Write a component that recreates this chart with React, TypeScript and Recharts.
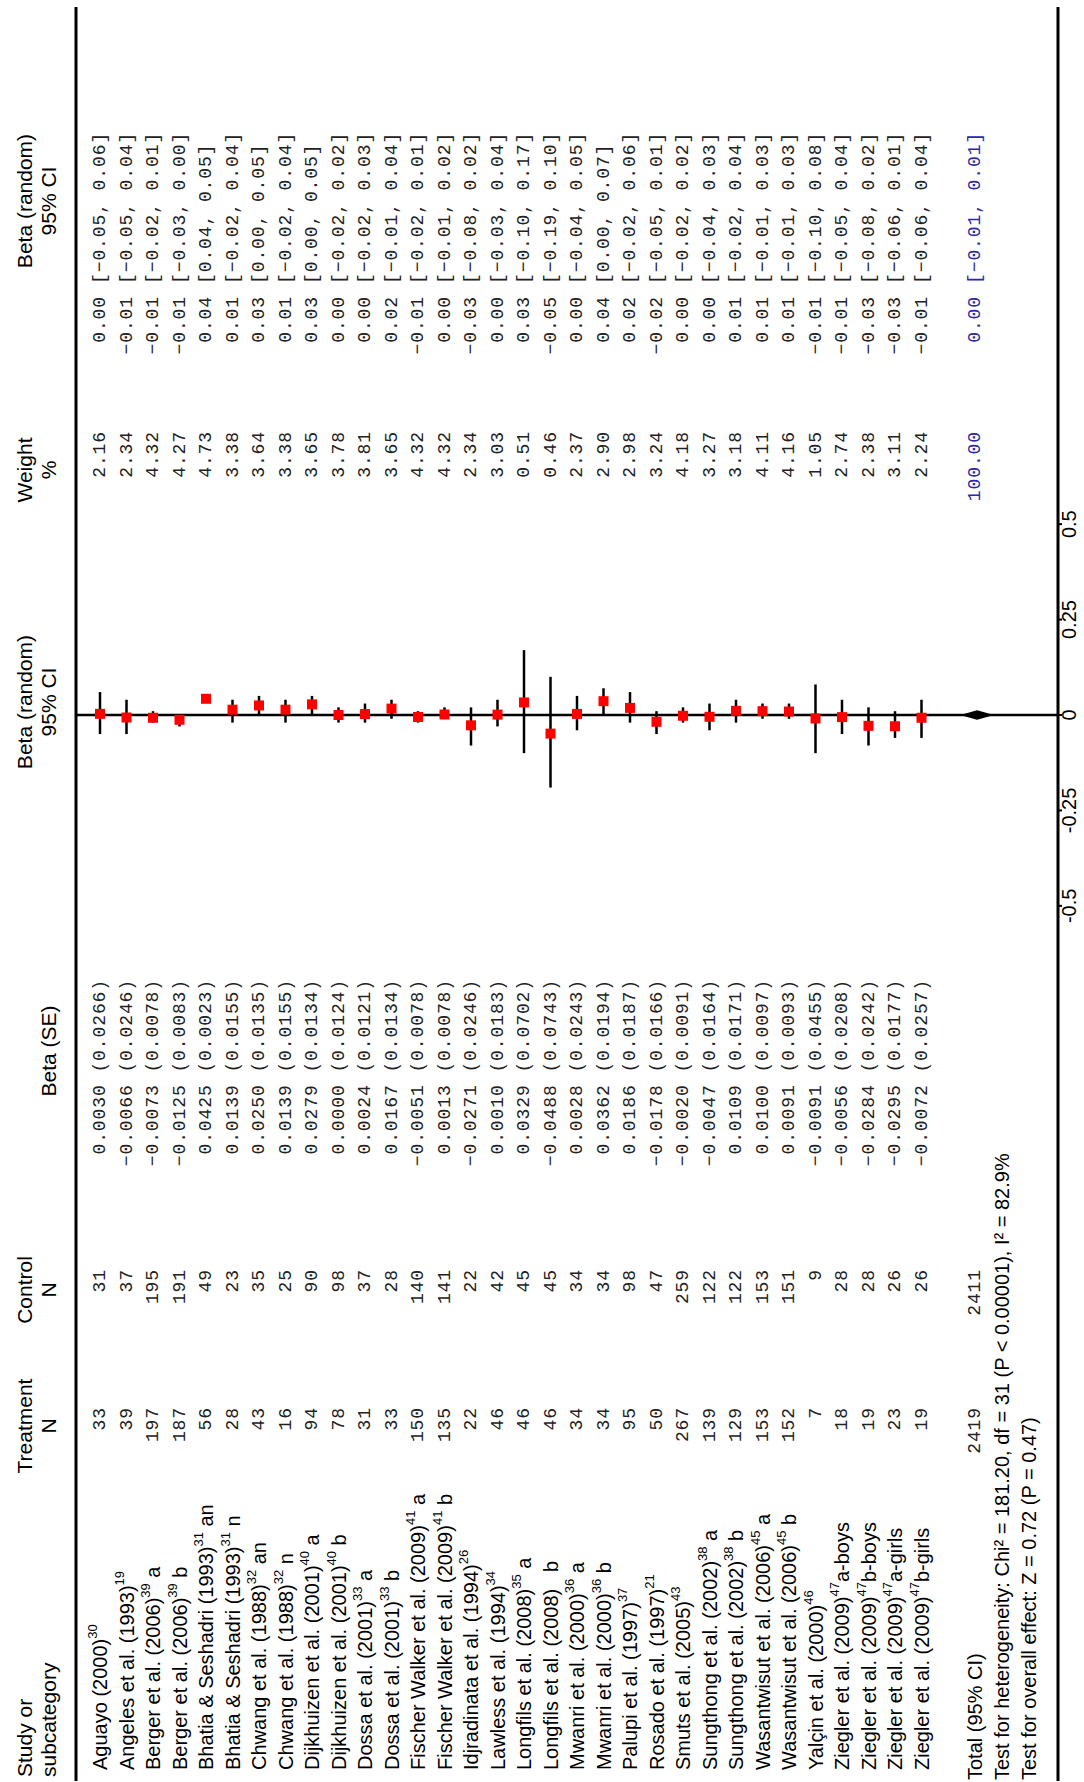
import React from "react";
import {
  ErrorBar,
  ReferenceArea,
  ReferenceLine,
  Scatter,
  ScatterChart,
  XAxis,
  YAxis,
} from "recharts";

// study rows, top to bottom
const studyNames = [
  "Aguayo (2000)",
  "Angeles et al. (1993)",
  "Berger et al. (2006)",
  "Berger et al. (2006)",
  "Bhatia & Seshadri (1993)",
  "Bhatia & Seshadri (1993)",
  "Chwang et al. (1988)",
  "Chwang et al. (1988)",
  "Dijkhuizen et al. (2001)",
  "Dijkhuizen et al. (2001)",
  "Dossa et al. (2001)",
  "Dossa et al. (2001)",
  "Fischer Walker et al. (2009)",
  "Fischer Walker et al. (2009)",
  "Idjradinata et al. (1994)",
  "Lawless et al. (1994)",
  "Longfils et al. (2008)",
  "Longfils et al. (2008)",
  "Mwanri et al. (2000)",
  "Mwanri et al. (2000)",
  "Palupi et al. (1997)",
  "Rosado et al. (1997)",
  "Smuts et al. (2005)",
  "Sungthong et al. (2002)",
  "Sungthong et al. (2002)",
  "Wasantwisut et al. (2006)",
  "Wasantwisut et al. (2006)",
  "Yalçin et al. (2000)",
  "Ziegler et al. (2009)",
  "Ziegler et al. (2009)",
  "Ziegler et al. (2009)",
  "Ziegler et al. (2009)",
];
const studyRefs = [
  "30", "19", "39", "39", "31", "31", "32", "32", "40", "40", "33", "33",
  "41", "41", "26", "34", "35", "", "36", "36", "37", "21", "43", "38",
  "38", "45", "45", "46", "47", "47", "47", "47",
];
const studySuffixes = [
  "", "", " a", " b", " an", " n", " an", " n", " a", " b", " a", " b",
  " a", " b", "", "", " a", "   b", " a", " b", "", "", "", " a",
  " b", " a", " b", "", "a-boys", "b-boys", "a-girls", "b-girls",
];
const treatmentN = [
  33, 39, 197, 187, 56, 28, 43, 16, 94, 78, 31, 33, 150, 135, 22, 46, 46, 46,
  34, 34, 95, 50, 267, 139, 129, 153, 152, 7, 18, 19, 23, 19,
];
const controlN = [
  31, 37, 195, 191, 49, 23, 35, 25, 90, 98, 37, 28, 140, 141, 22, 42, 45, 45,
  34, 34, 98, 47, 259, 122, 122, 153, 151, 9, 28, 28, 26, 26,
];
const betas = [
  0.003, -0.0066, -0.0073, -0.0125, 0.0425, 0.0139, 0.025, 0.0139, 0.0279, 0.0,
  0.0024, 0.0167, -0.0051, 0.0013, -0.0271, 0.001, 0.0329, -0.0488, 0.0028,
  0.0362, 0.0186, -0.0178, -0.002, -0.0047, 0.0109, 0.01, 0.0091, -0.0091,
  -0.0056, -0.0284, -0.0295, -0.0072,
];
const standardErrors = [
  0.0266, 0.0246, 0.0078, 0.0083, 0.0023, 0.0155, 0.0135, 0.0155, 0.0134,
  0.0124, 0.0121, 0.0134, 0.0078, 0.0078, 0.0246, 0.0183, 0.0702, 0.0743,
  0.0243, 0.0194, 0.0187, 0.0166, 0.0091, 0.0164, 0.0171, 0.0097, 0.0093,
  0.0455, 0.0208, 0.0242, 0.0177, 0.0257,
];
const weights = [
  2.16, 2.34, 4.32, 4.27, 4.73, 3.38, 3.64, 3.38, 3.65, 3.78, 3.81, 3.65, 4.32,
  4.32, 2.34, 3.03, 0.51, 0.46, 2.37, 2.9, 2.98, 3.24, 4.18, 3.27, 3.18, 4.11,
  4.16, 1.05, 2.74, 2.38, 3.11, 2.24,
];
const estimates = [
  0.0, -0.01, -0.01, -0.01, 0.04, 0.01, 0.03, 0.01, 0.03, 0.0, 0.0, 0.02, -0.01,
  0.0, -0.03, 0.0, 0.03, -0.05, 0.0, 0.04, 0.02, -0.02, 0.0, 0.0, 0.01, 0.01,
  0.01, -0.01, -0.01, -0.03, -0.03, -0.01,
];
const ciLower = [
  -0.05, -0.05, -0.02, -0.03, 0.04, -0.02, 0.0, -0.02, 0.0, -0.02, -0.02, -0.01,
  -0.02, -0.01, -0.08, -0.03, -0.1, -0.19, -0.04, 0.0, -0.02, -0.05, -0.02,
  -0.04, -0.02, -0.01, -0.01, -0.1, -0.05, -0.08, -0.06, -0.06,
];
const ciUpper = [
  0.06, 0.04, 0.01, 0.0, 0.05, 0.04, 0.05, 0.04, 0.05, 0.02, 0.03, 0.04, 0.01,
  0.02, 0.02, 0.04, 0.17, 0.1, 0.05, 0.07, 0.06, 0.01, 0.02, 0.03, 0.04, 0.03,
  0.03, 0.08, 0.04, 0.02, 0.01, 0.04,
];

// pooled result and footer
const totalTreatment = 2419;
const totalControl = 2411;
const totalWeight = 100;
const totalEstimate = 0.0;
const totalLower = -0.01;
const totalUpper = 0.01;
const heterogeneityText =
  "Test for heterogeneity: Chi² = 181.20, df = 31 (P < 0.00001), I² = 82.9%";
const overallText = "Test for overall effect: Z = 0.72 (P = 0.47)";
const axisTicks = [-0.5, -0.25, 0, 0.25, 0.5];

// layout (chart is drawn landscape, then turned a quarter to the left)
const W = 1782;
const H = 1084;
const PLOT_LEFT = 1;
const PLOT_TOP = 76;
const PLOT_BOTTOM = 1058;
const PLOT_RIGHT = 1775;
const ROW0 = 100;
const ROW_H = 26.5;
const ZERO_U = 1067;
const PX_PER_UNIT = 381.7;
const TOTAL_ROW = 33;
const HET_ROW = 34.05;
const OVERALL_ROW = 35.05;

const xDomain = [
  (PLOT_LEFT - ZERO_U) / PX_PER_UNIT,
  (PLOT_RIGHT - ZERO_U) / PX_PER_UNIT,
];
const yDomain = [(PLOT_TOP - ROW0) / ROW_H, (PLOT_BOTTOM - ROW0) / ROW_H];

const COL = {
  study: 12,
  footer: 2,
  treat: 375,
  control: 513,
  se: 803,
  weight: 1351,
  est: 1486,
  ci: 1498,
};

const SANS = "'Liberation Sans', Arial, sans-serif";
const MONO = "'Liberation Mono', 'DejaVu Sans Mono', monospace";
const NUM_COLOR = "#222";
const BLUE = "#2a2aa8";

const monoStyle = {
  fontFamily: MONO,
  fontSize: 18,
  letterSpacing: 0.9,
};

const fmt = (v: number, d: number) =>
  (v < 0 ? "\u2212" : "") + Math.abs(v).toFixed(d);
const ciText = (lo: number, hi: number) => `[${fmt(lo, 2)}, ${fmt(hi, 2)}]`;

const points = betas.map((b, i) => ({
  x: b,
  y: i,
  err: [b - ciLower[i], ciUpper[i] - b],
}));

const rowTicks = [
  ...studyNames.map((_, i) => i),
  TOTAL_ROW,
  HET_ROW,
  OVERALL_ROW,
];

function NumText({
  u,
  y,
  anchor,
  fill = NUM_COLOR,
  children,
}: {
  u: number;
  y: number;
  anchor: "start" | "end";
  fill?: string;
  children: React.ReactNode;
}) {
  return (
    <text
      x={u}
      y={y}
      textAnchor={anchor}
      dominantBaseline="central"
      fill={fill}
      style={{ ...monoStyle, whiteSpace: "pre" }}
    >
      {children}
    </text>
  );
}

function RowTick(props: any) {
  const { y, payload } = props;
  const row = payload.value as number;

  if (row < studyNames.length) {
    const i = row;
    return (
      <g>
        <text
          x={COL.study}
          y={y}
          dominantBaseline="central"
          fill="#000"
          style={{ fontFamily: SANS, fontSize: 20, whiteSpace: "pre" }}
        >
          {studyNames[i]}
          {studyRefs[i] ? (
            <tspan dy={-8} fontSize={13}>
              {studyRefs[i]}
            </tspan>
          ) : null}
          {studySuffixes[i] ? (
            <tspan dy={studyRefs[i] ? 8 : 0}>{studySuffixes[i]}</tspan>
          ) : null}
        </text>
        <NumText u={COL.treat} y={y} anchor="end">
          {treatmentN[i]}
        </NumText>
        <NumText u={COL.control} y={y} anchor="end">
          {controlN[i]}
        </NumText>
        <NumText u={COL.se} y={y} anchor="end">
          {`${fmt(betas[i], 4)} (${standardErrors[i].toFixed(4)})`}
        </NumText>
        <NumText u={COL.weight} y={y} anchor="end">
          {weights[i].toFixed(2)}
        </NumText>
        <NumText u={COL.est} y={y} anchor="end">
          {fmt(estimates[i], 2)}
        </NumText>
        <NumText u={COL.ci} y={y} anchor="start">
          {ciText(ciLower[i], ciUpper[i])}
        </NumText>
      </g>
    );
  }

  if (row === TOTAL_ROW) {
    return (
      <g>
        <text
          x={COL.footer}
          y={y}
          dominantBaseline="central"
          fill="#000"
          style={{ fontFamily: SANS, fontSize: 20 }}
        >
          Total (95% CI)
        </text>
        <NumText u={COL.treat} y={y} anchor="end">
          {totalTreatment}
        </NumText>
        <NumText u={COL.control} y={y} anchor="end">
          {totalControl}
        </NumText>
        <NumText u={COL.weight} y={y} anchor="end" fill={BLUE}>
          {totalWeight.toFixed(2)}
        </NumText>
        <NumText u={COL.est} y={y} anchor="end" fill={BLUE}>
          {fmt(totalEstimate, 2)}
        </NumText>
        <NumText u={COL.ci} y={y} anchor="start" fill={BLUE}>
          {ciText(totalLower, totalUpper)}
        </NumText>
      </g>
    );
  }

  const txt = row === HET_ROW ? heterogeneityText : overallText;
  return (
    <text
      x={COL.footer}
      y={y}
      dominantBaseline="central"
      fill="#000"
      style={{ fontFamily: SANS, fontSize: 20 }}
    >
      {txt}
    </text>
  );
}

function RedSquare(props: any) {
  const { cx, cy } = props;
  return <rect x={cx - 5} y={cy - 5} width={10} height={10} fill="#ff0000" />;
}

function Blank() {
  return <g />;
}

function Diamond(props: any) {
  const { x, y, width, height } = props;
  const cx = x + width / 2;
  const cy = y + height / 2;
  const pts = `${x},${cy} ${cx},${y} ${x + width},${cy} ${cx},${y + height}`;
  return <polygon points={pts} fill="#000" stroke="#000" strokeWidth={2} />;
}

const headers: { u: number; lines: string[] }[] = [
  { u: 5, lines: ["Study or", "subcategory"] },
  { u: 356, lines: ["Treatment", "N"] },
  { u: 492, lines: ["Control", "N"] },
  { u: 731, lines: ["", "Beta (SE)"] },
  { u: 1080, lines: ["Beta (random)", "95% CI"] },
  { u: 1312, lines: ["Weight", "%"] },
  { u: 1581, lines: ["Beta (random)", "95% CI"] },
];

function Headers() {
  return (
    <svg
      width={W}
      height={PLOT_TOP}
      style={{ position: "absolute", left: 0, top: 0, overflow: "visible" }}
    >
      {headers.map((h, k) =>
        h.lines.map((line, j) =>
          line ? (
            <text
              key={`${k}-${j}`}
              x={h.u}
              y={24 + j * 24}
              textAnchor={k === 0 ? "start" : "middle"}
              dominantBaseline="central"
              fill="#000"
              style={{ fontFamily: SANS, fontSize: 21 }}
            >
              {line}
            </text>
          ) : null
        )
      )}
    </svg>
  );
}

export default function App() {
  return (
    <div
      style={{
        position: "absolute",
        left: 0,
        top: 0,
        width: H,
        height: W,
        overflow: "hidden",
        background: "#fff",
      }}
    >
      <div
        style={{
          position: "absolute",
          left: 0,
          top: 0,
          width: W,
          height: H,
          transformOrigin: "0 0",
          transform: `translate(0px, ${W}px) rotate(-90deg)`,
        }}
      >
        <ScatterChart
          width={W}
          height={H}
          margin={{
            top: PLOT_TOP - 1,
            right: W - PLOT_RIGHT,
            bottom: 0,
            left: 0,
          }}
          style={{ fontFamily: SANS }}
        >
          <XAxis
            xAxisId="top"
            orientation="top"
            type="number"
            dataKey="x"
            domain={xDomain}
            allowDataOverflow
            height={1}
            tick={false}
            tickLine={false}
            axisLine={{ stroke: "#000", strokeWidth: 3 }}
          />
          <XAxis
            type="number"
            dataKey="x"
            domain={xDomain}
            allowDataOverflow
            ticks={axisTicks}
            interval={0}
            height={H - PLOT_BOTTOM}
            tickSize={4}
            tickMargin={0}
            axisLine={{ stroke: "#000", strokeWidth: 3 }}
            tickLine={{ stroke: "#000", strokeWidth: 2 }}
            tick={{ fill: "#000", fontSize: 20, fontFamily: SANS }}
          />
          <YAxis
            type="number"
            dataKey="y"
            domain={yDomain}
            allowDataOverflow
            reversed
            ticks={rowTicks}
            interval={0}
            width={PLOT_LEFT}
            axisLine={false}
            tickLine={false}
            tick={RowTick}
          />
          <ReferenceLine x={0} stroke="#000" strokeWidth={2.5} />
          <Scatter data={points} shape={RedSquare} isAnimationActive={false} />
          <Scatter data={points} shape={Blank} isAnimationActive={false}>
            <ErrorBar
              dataKey="err"
              direction="x"
              width={0}
              stroke="#000"
              strokeWidth={2.5}
            />
          </Scatter>
          <ReferenceArea
            x1={totalLower}
            x2={totalUpper}
            y1={TOTAL_ROW - 0.4}
            y2={TOTAL_ROW + 0.6}
            ifOverflow="visible"
            shape={Diamond}
          />
        </ScatterChart>
        <Headers />
      </div>
    </div>
  );
}
